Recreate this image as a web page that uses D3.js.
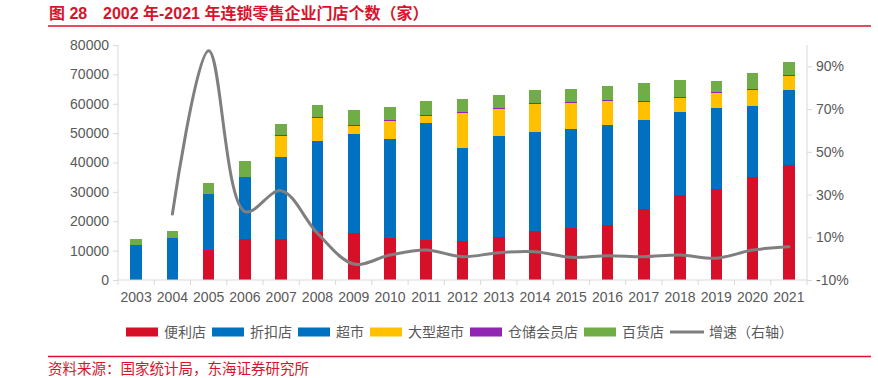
<!DOCTYPE html>
<html>
<head>
<meta charset="utf-8">
<script src="https://cdn.jsdelivr.net/npm/d3@7"></script>
<style>
  html, body { margin: 0; padding: 0; background: #fff; }
  svg { display: block; font-family: "Liberation Sans", Arial, "Noto Sans CJK SC", sans-serif; }
</style>
</head>
<body>
<div id="chart"></div>
<script>
// chain retail stores by format, 2003-2021 (stacked) + total growth on right axis
const W = 878, H = 378;
const M = { top: 45, right: 71, bottom: 98, left: 118 };

const YEARS = ['2003','2004','2005','2006','2007','2008','2009','2010','2011','2012',
               '2013','2014','2015','2016','2017','2018','2019','2020','2021'];

const CONVENIENCE = [0, 0, 10100, 13950, 13950, 16450, 15890, 14400, 13720, 13380,
                     14750, 16790, 17800, 18720, 24170, 28930, 31090, 34950, 39250];
const DISCOUNT    = [0, 0, 800, 1050, 1200, 1270, 1380, 1430, 1490, 1520,
                     1630, 1600, 1680, 1720, 1800, 1840, 1900, 1950, 2030];
const SUPERMARKET = [11800, 14190, 18260, 20060, 26720, 29580, 32530, 32060, 38120, 29920,
                     32640, 32090, 32020, 32210, 28490, 26520, 25450, 22330, 23290];
const HYPERMARKET = [0, 0, 0, 0, 7260, 7950, 2730, 6230, 2380, 11910,
                     9280, 9540, 8630, 8390, 6240, 4770, 5330, 5450, 4980];
const WAREHOUSE   = [0, 0, 0, 0, 300, 400, 300, 400, 350, 400,
                     300, 300, 300, 300, 300, 250, 200, 200, 200];
const DEPARTMENT  = [2160, 2490, 3740, 5340, 3670, 3810, 5040, 4260, 4760, 4370,
                     4370, 4460, 4590, 4810, 5940, 5770, 3880, 5580, 4450];
const GROWTH      = [null, 20.9, 97.3, 22.0, 31.8, 11.9, -2.5, 1.7, 4.0, 0.9,
                     2.8, 3.2, 0.6, 1.4, 0.9, 1.7, 0.2, 4.0, 5.6];

const SERIES = [
  { key: 'conv', name: '便利店',     values: CONVENIENCE, color: '#d7102a' },
  { key: 'disc', name: '折扣店',     values: DISCOUNT,    color: '#0070c0' },
  { key: 'sup',  name: '超市',       values: SUPERMARKET, color: '#0070c0' },
  { key: 'hyp',  name: '大型超市',   values: HYPERMARKET, color: '#ffc000' },
  { key: 'ware', name: '仓储会员店', values: WAREHOUSE,   color: '#9126b2' },
  { key: 'dept', name: '百货店',     values: DEPARTMENT,  color: '#70ad47' },
];
const LINE_NAME = '增速（右轴）';
const LINE_COLOR = '#7f7f7f';
const RED = '#d9132b';
const INK = '#595959';
const RULE = '#d9d9d9';

const innerW = W - M.left - M.right, innerH = H - M.top - M.bottom;

const svg = d3.select('#chart').append('svg').attr('width', W).attr('height', H);

// title + rules
svg.append('text').attr('x', 49).attr('y', 18.5)
  .attr('font-size', 16).attr('font-weight', 700).attr('fill', RED)
  .text('图 28');
svg.append('text').attr('x', 103).attr('y', 18.5)
  .attr('font-size', 16).attr('font-weight', 700).attr('fill', RED)
  .text('2002 年-2021 年连锁零售企业门店个数（家）');
svg.append('line').attr('x1', 48).attr('x2', 871).attr('y1', 26).attr('y2', 26)
  .attr('stroke', RED).attr('stroke-width', 1.5);
svg.append('line').attr('x1', 48).attr('x2', 871).attr('y1', 356.5).attr('y2', 356.5)
  .attr('stroke', RED).attr('stroke-width', 1.5);
svg.append('text').attr('x', 48).attr('y', 373.5)
  .attr('font-size', 14.5).attr('fill', RED)
  .text('资料来源：国家统计局，东海证券研究所');

const g = svg.append('g').attr('transform', `translate(${M.left},${M.top})`);

const x = d3.scaleBand().domain(YEARS).range([0, innerW]).paddingInner(0.68).paddingOuter(0.34);
const y = d3.scaleLinear().domain([0, 80000]).range([innerH, 0]);
const y2 = d3.scaleLinear().domain([-10, 100]).range([innerH, 0]);

// stacked bars
const rows = YEARS.map((yr, i) => {
  const r = { year: yr };
  SERIES.forEach(s => { r[s.key] = s.values[i]; });
  return r;
});
const layers = d3.stack().keys(SERIES.map(s => s.key))(rows);

g.append('g').attr('shape-rendering', 'crispEdges')
  .selectAll('g').data(layers).join('g')
  .attr('fill', (d, i) => SERIES[i].color)
  .selectAll('rect').data(d => d).join('rect')
  .attr('x', d => x(d.data.year))
  .attr('width', x.bandwidth())
  .attr('y', d => y(d[1]))
  .attr('height', d => Math.max(0, y(d[0]) - y(d[1])));

// axes
const yAxis = g.append('g')
  .call(d3.axisLeft(y).tickValues(d3.range(0, 80001, 10000)).tickSize(5).tickPadding(4).tickFormat(d3.format('d')));
const y2Axis = g.append('g').attr('transform', `translate(${innerW},0)`)
  .call(d3.axisRight(y2).tickValues(d3.range(-10, 91, 20)).tickSize(5).tickPadding(4).tickFormat(d => d + '%'));
[yAxis, y2Axis].forEach(ax => {
  ax.select('.domain').attr('stroke', RULE).attr('d', `M0,0V${innerH}`);
  ax.selectAll('.tick line').attr('stroke', RULE);
  ax.selectAll('.tick text').attr('fill', INK).attr('font-size', 14)
    .attr('font-family', '"Liberation Sans", Arial, sans-serif');
});

// x axis: line, boundary ticks, centred labels
const xg = g.append('g').attr('transform', `translate(0,${innerH})`);
xg.append('line').attr('x1', 0).attr('x2', innerW).attr('stroke', RULE);
const step = x.step();
xg.selectAll('line.b').data(d3.range(YEARS.length + 1)).join('line')
  .attr('class', 'b')
  .attr('x1', i => i * step).attr('x2', i => i * step)
  .attr('y1', 0).attr('y2', 5).attr('stroke', RULE);
xg.selectAll('text').data(YEARS).join('text')
  .attr('x', d => x(d) + x.bandwidth() / 2).attr('y', 22)
  .attr('text-anchor', 'middle').attr('font-size', 14).attr('fill', INK)
  .attr('font-family', '"Liberation Sans", Arial, sans-serif')
  .text(d => d);

// growth line
const pts = YEARS.map((yr, i) => ({ year: yr, v: GROWTH[i] })).filter(d => d.v != null);
const line = d3.line().curve(d3.curveCatmullRom.alpha(0.5))
  .x(d => x(d.year) + x.bandwidth() / 2).y(d => y2(d.v));
g.append('path').datum(pts)
  .attr('fill', 'none').attr('stroke', LINE_COLOR).attr('stroke-width', 3)
  .attr('stroke-linecap', 'round').attr('stroke-linejoin', 'round')
  .attr('d', line);

// legend
const leg = svg.append('g').attr('transform', 'translate(126,332)');
let cx = 0;
const items = SERIES.map(s => ({ name: s.name, color: s.color, type: 'rect' }))
  .concat([{ name: LINE_NAME, color: LINE_COLOR, type: 'line' }]);
items.forEach(it => {
  const ig = leg.append('g').attr('transform', `translate(${cx},0)`);
  if (it.type === 'rect') {
    ig.append('rect').attr('x', 0).attr('y', -4.5).attr('width', 32).attr('height', 9).attr('fill', it.color);
  } else {
    ig.append('line').attr('x1', 0).attr('x2', 34).attr('y1', 0).attr('y2', 0)
      .attr('stroke', it.color).attr('stroke-width', 3);
  }
  const t = ig.append('text').attr('x', it.type === 'rect' ? 38 : 39).attr('y', 5)
    .attr('font-size', 14).attr('fill', INK).text(it.name);
  cx += (it.type === 'rect' ? 38 : 39) + t.node().getComputedTextLength() + 6;
});
</script>
</body>
</html>
